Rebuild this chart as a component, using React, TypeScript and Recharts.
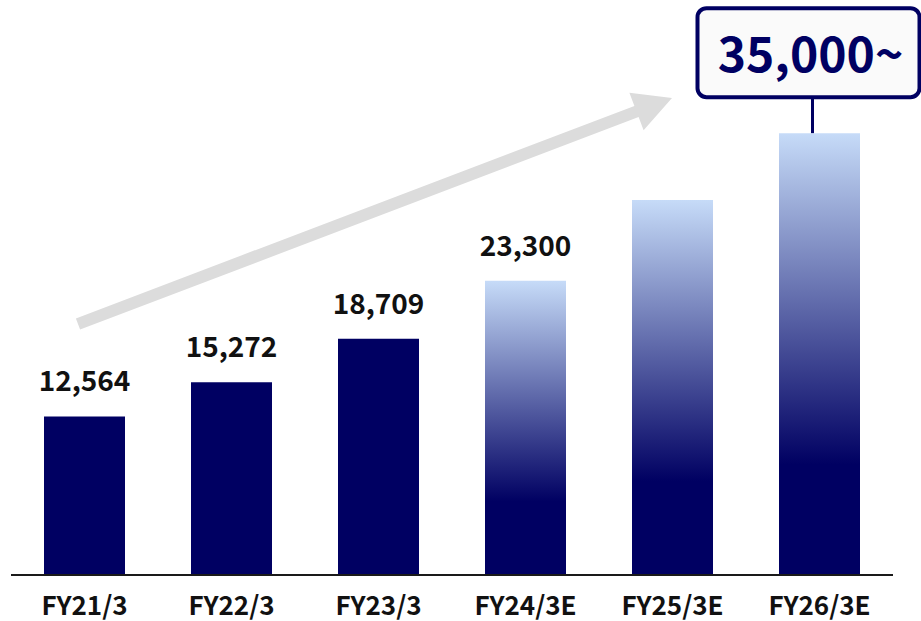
import { Bar, BarChart, Cell, Customized, LabelList, XAxis, YAxis } from "recharts";

const years = ["FY21/3", "FY22/3", "FY23/3", "FY24/3E", "FY25/3E", "FY26/3E"];
const sales = [12564, 15272, 18709, 23300, 29700, 35000];
const valueLabels = ["12,564", "15,272", "18,709", "23,300", "", "35,000~"];
const isEstimate = [false, false, false, true, true, true];

const NAVY = "#000062";
const FONT = "'Noto Sans CJK JP', 'Noto Sans', sans-serif";

const data = years.map((y, i) => ({ year: y, sales: sales[i], label: valueLabels[i] }));

function ValueLabel(props: any) {
  const { x, y, width, index } = props;
  const text = valueLabels[index];
  if (!text) return null;
  const cx = x + width / 2;
  if (index === years.length - 1) {
    const bottom = y - 36;
    const top = bottom - 89;
    return (
      <g>
        <line x1={cx - 7} y1={y} x2={cx - 7} y2={bottom} stroke={NAVY} strokeWidth={3} />
        <rect x={cx - 122} y={top} width={222} height={89} rx={9} fill="#fafafa" stroke={NAVY} strokeWidth={4} />
        <text x={cx - 9} y={top + 64} textAnchor="middle" fill={NAVY} fontSize={48} fontWeight={700} fontFamily={FONT}>
          {text}
        </text>
      </g>
    );
  }
  return (
    <text x={cx} y={y - 25} textAnchor="middle" fill="#111" fontSize={28} fontWeight={700} fontFamily={FONT}>
      {text}
    </text>
  );
}

function YearTick(props: any) {
  const { x, y, payload } = props;
  return (
    <text x={x} y={y + 32} textAnchor="middle" fill="#111" fontSize={26} fontWeight={700} fontFamily={FONT}>
      {payload.value}
    </text>
  );
}

function GrowthArrow() {
  const tail = [78, 324];
  const tip = [672, 98];
  const dx = tip[0] - tail[0];
  const dy = tip[1] - tail[1];
  const len = Math.sqrt(dx * dx + dy * dy);
  const ux = dx / len;
  const uy = dy / len;
  const nx = -uy;
  const ny = ux;
  const headLen = 38;
  const bx = tip[0] - ux * headLen;
  const by = tip[1] - uy * headLen;
  const p = (a: number, b: number) => `${a.toFixed(1)},${b.toFixed(1)}`;
  const pts = [
    p(tail[0] + nx * 6, tail[1] + ny * 6),
    p(bx + nx * 6, by + ny * 6),
    p(bx + nx * 20, by + ny * 20),
    p(tip[0], tip[1]),
    p(bx - nx * 20, by - ny * 20),
    p(bx - nx * 6, by - ny * 6),
    p(tail[0] - nx * 6, tail[1] - ny * 6)
  ].join(" ");
  return <polygon points={pts} fill="#dcdcdc" />;
}

export default function App() {
  return (
    <div style={{ position: "fixed", left: 0, top: 0, width: 921, height: 621, background: "#fff" }}>
      <BarChart width={921} height={621} data={data} margin={{ top: 70, right: 28, left: 11, bottom: 0 }}>
        <defs>
          <linearGradient id="estGrad" x1="0" y1="0" x2="0" y2="1">
            <stop offset="0" stopColor="#c6dbf8" />
            <stop offset="0.75" stopColor={NAVY} />
            <stop offset="1" stopColor={NAVY} />
          </linearGradient>
        </defs>
        <Customized component={GrowthArrow} />
        <XAxis
          dataKey="year"
          height={46}
          tickLine={false}
          axisLine={{ stroke: "#1a1a1a", strokeWidth: 2 }}
          tick={<YearTick />}
          interval={0}
        />
        <YAxis hide domain={[0, 40000]} />
        <Bar dataKey="sales" barSize={81} isAnimationActive={false}>
          {data.map((d, i) => (
            <Cell key={d.year} fill={isEstimate[i] ? "url(#estGrad)" : NAVY} />
          ))}
          <LabelList dataKey="label" content={<ValueLabel />} />
        </Bar>
      </BarChart>
    </div>
  );
}
